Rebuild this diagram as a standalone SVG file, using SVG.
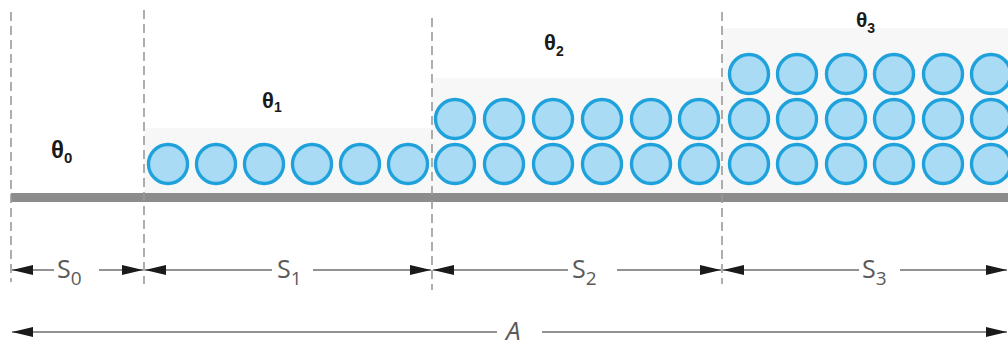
<svg xmlns="http://www.w3.org/2000/svg" width="1008" height="347" viewBox="0 0 1008 347">
<style>
.bg{fill:#f7f7f7}
.ball{fill:#a9dcf4;stroke:#1fa2dc;stroke-width:3.4}
.ground{fill:#8c8c8c}
.dash{stroke:#9a9a9a;stroke-width:1.6;stroke-dasharray:9 5;fill:none}
.dim{stroke:#6e6e6e;stroke-width:1.6;fill:none;marker-end:url(#arr)}
.th{font-family:"Liberation Sans",Arial,sans-serif;fill:#1a1a1a;font-weight:bold}
.s{font-family:"Open Sans","Liberation Sans",sans-serif;fill:#5a5a5a}
</style>
<defs>
<marker id="arr" markerUnits="userSpaceOnUse" markerWidth="22" markerHeight="12" viewBox="0 0 22 12" refX="21" refY="6" orient="auto">
<path d="M0,1 L21,6 L0,11 Z" fill="#1a1a1a"/>
</marker>
</defs>
<rect width="1008" height="347" fill="#fff"/>

<g id="segment-s0">
<text class="th" x="51" y="158" font-size="24">θ<tspan font-size="15" dy="5">0</tspan></text>
</g>

<g id="segment-s1">
<rect class="bg" x="144" y="128" width="288" height="66"/>
<circle class="ball" cx="168" cy="164" r="19.5"/>
<circle class="ball" cx="216" cy="164" r="19.5"/>
<circle class="ball" cx="264" cy="164" r="19.5"/>
<circle class="ball" cx="312" cy="164" r="19.5"/>
<circle class="ball" cx="360" cy="164" r="19.5"/>
<circle class="ball" cx="408" cy="164" r="19.5"/>
<text class="th" x="262" y="108" font-size="22">θ<tspan font-size="14" dy="4">1</tspan></text>
</g>

<g id="segment-s2">
<rect class="bg" x="432" y="78" width="290" height="116"/>
<circle class="ball" cx="455" cy="164" r="19.5"/>
<circle class="ball" cx="504" cy="164" r="19.5"/>
<circle class="ball" cx="553" cy="164" r="19.5"/>
<circle class="ball" cx="602" cy="164" r="19.5"/>
<circle class="ball" cx="651" cy="164" r="19.5"/>
<circle class="ball" cx="699" cy="164" r="19.5"/>
<circle class="ball" cx="455" cy="119" r="19.5"/>
<circle class="ball" cx="504" cy="119" r="19.5"/>
<circle class="ball" cx="553" cy="119" r="19.5"/>
<circle class="ball" cx="602" cy="119" r="19.5"/>
<circle class="ball" cx="651" cy="119" r="19.5"/>
<circle class="ball" cx="699" cy="119" r="19.5"/>
<text class="th" x="544" y="50" font-size="22">θ<tspan font-size="14" dy="6">2</tspan></text>
</g>

<g id="segment-s3">
<rect class="bg" x="722" y="28" width="286" height="166"/>
<circle class="ball" cx="749" cy="164" r="19.5"/>
<circle class="ball" cx="797" cy="164" r="19.5"/>
<circle class="ball" cx="846" cy="164" r="19.5"/>
<circle class="ball" cx="894" cy="164" r="19.5"/>
<circle class="ball" cx="943" cy="164" r="19.5"/>
<circle class="ball" cx="991" cy="164" r="19.5"/>
<circle class="ball" cx="749" cy="119" r="19.5"/>
<circle class="ball" cx="797" cy="119" r="19.5"/>
<circle class="ball" cx="846" cy="119" r="19.5"/>
<circle class="ball" cx="894" cy="119" r="19.5"/>
<circle class="ball" cx="943" cy="119" r="19.5"/>
<circle class="ball" cx="991" cy="119" r="19.5"/>
<circle class="ball" cx="749" cy="74" r="19.5"/>
<circle class="ball" cx="797" cy="74" r="19.5"/>
<circle class="ball" cx="846" cy="74" r="19.5"/>
<circle class="ball" cx="894" cy="74" r="19.5"/>
<circle class="ball" cx="943" cy="74" r="19.5"/>
<circle class="ball" cx="991" cy="74" r="19.5"/>
<text class="th" x="856" y="27" font-size="21">θ<tspan font-size="14" dy="6">3</tspan></text>
</g>

<g id="ground">
<rect class="ground" x="11" y="193" width="997" height="9"/>
</g>

<g id="boundaries">
<line class="dash" x1="11" y1="12" x2="11" y2="282"/>
<line class="dash" x1="144" y1="10" x2="144" y2="284"/>
<line class="dash" x1="432" y1="18" x2="432" y2="290"/>
<line class="dash" x1="722" y1="12" x2="722" y2="284"/>
</g>

<g id="connectors">
<line class="dim" x1="54" y1="270" x2="12" y2="270"/>
<line class="dim" x1="99" y1="270" x2="143" y2="270"/>
<line class="dim" x1="272" y1="270" x2="145" y2="270"/>
<line class="dim" x1="313" y1="270" x2="431" y2="270"/>
<line class="dim" x1="568" y1="270" x2="433" y2="270"/>
<line class="dim" x1="617" y1="270" x2="721" y2="270"/>
<line class="dim" x1="859" y1="270" x2="723" y2="270"/>
<line class="dim" x1="900" y1="270" x2="1007" y2="270"/>
<line class="dim" x1="497" y1="332" x2="12" y2="332"/>
<line class="dim" x1="542" y1="332" x2="1007" y2="332"/>
</g>

<g id="labels">
<text class="s" x="57" y="278" font-size="25">S<tspan font-size="19" dy="7">0</tspan></text>
<text class="s" x="277" y="278" font-size="25">S<tspan font-size="19" dy="7">1</tspan></text>
<text class="s" x="572" y="278" font-size="25">S<tspan font-size="19" dy="7">2</tspan></text>
<text class="s" x="862" y="278" font-size="25">S<tspan font-size="19" dy="7">3</tspan></text>
<text class="s" x="506" y="340" font-size="26" font-style="italic">A</text>
</g>
</svg>
